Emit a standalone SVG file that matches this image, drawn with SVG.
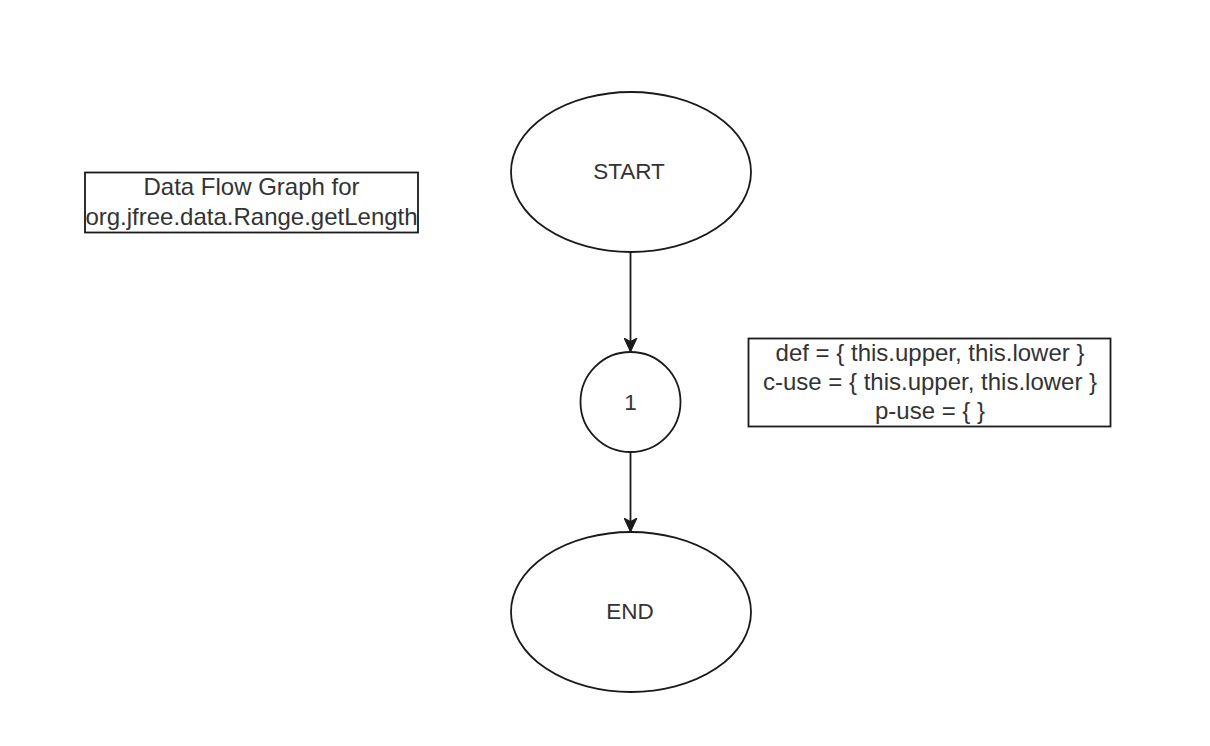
<svg xmlns="http://www.w3.org/2000/svg" width="1210" height="746" viewBox="0 0 1210 746">
<style>
.shape{fill:#ffffff;stroke:#1a1a1a;stroke-width:1.8}
.box{fill:#ffffff;stroke:#1a1a1a;stroke-width:1.8}
.lbl{font-family:"Liberation Sans",Arial,sans-serif;font-size:24px;fill:#333333;text-anchor:middle}
.big{font-size:22.5px}
.edge{stroke:#1a1a1a;stroke-width:1.8;fill:none}
</style>
<defs>
<marker id="arrow" viewBox="0 0 14 14" refX="14" refY="7" markerWidth="14" markerHeight="14" markerUnits="userSpaceOnUse" orient="auto">
<path d="M0,0.5 L14,7 L0,13.5 L3.5,7 Z" fill="#1a1a1a" stroke="#1a1a1a" stroke-width="1"/>
</marker>
</defs>
<rect width="1210" height="746" fill="#ffffff"/>
<g id="title">
<rect class="box" x="85" y="172.5" width="333" height="60"/>
<text class="lbl" x="251.5" y="195">Data Flow Graph for</text>
<text class="lbl" x="251.5" y="225">org.jfree.data.Range.getLength</text>
</g>
<g id="start">
<ellipse class="shape" cx="631" cy="172" rx="120" ry="80"/>
<text class="lbl big" x="629" y="179">START</text>
</g>
<g id="n1">
<circle class="shape" cx="630.5" cy="402" r="50"/>
<text class="lbl big" x="630.5" y="410">1</text>
</g>
<g id="end">
<ellipse class="shape" cx="631" cy="612" rx="120" ry="80"/>
<text class="lbl big" x="630" y="619">END</text>
</g>
<g id="info">
<rect class="box" x="748.5" y="338.5" width="362" height="88"/>
<text class="lbl" x="930" y="361">def = { this.upper, this.lower }</text>
<text class="lbl" x="930" y="390">c-use = { this.upper, this.lower }</text>
<text class="lbl" x="930" y="419">p-use = { }</text>
</g>
<g id="connectors">
<line class="edge" x1="630.5" y1="252" x2="630.5" y2="352" marker-end="url(#arrow)"/>
<line class="edge" x1="630.5" y1="452" x2="630.5" y2="532" marker-end="url(#arrow)"/>
</g>
</svg>
